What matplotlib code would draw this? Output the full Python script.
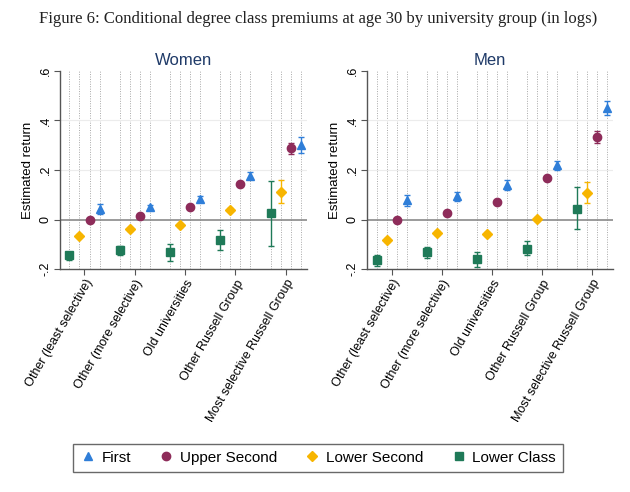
import matplotlib.pyplot as plt
import numpy as np

plt.rcParams['font.family'] = ['Liberation Sans', 'DejaVu Sans']

groups = ['Other (least selective)', 'Other (more selective)', 'Old universities',
          'Other Russell Group', 'Most selective Russell Group']
series = ['Lower Class', 'Lower Second', 'Upper Second', 'First']
legend_order = ['First', 'Upper Second', 'Lower Second', 'Lower Class']

# estimates (women)
women = {
    'Lower Class':  [-0.145, -0.123, -0.132, -0.082, 0.027],
    'Lower Second': [-0.066, -0.039, -0.023, 0.040, 0.113],
    'Upper Second': [0.000, 0.015, 0.050, 0.145, 0.287],
    'First':        [0.044, 0.050, 0.083, 0.175, 0.302],
}
women_lo = {
    'Lower Class':  [-0.164, -0.141, -0.168, -0.121, -0.105],
    'Lower Second': [-0.072, -0.045, -0.030, 0.033, 0.067],
    'Upper Second': [0.000, 0.010, 0.045, 0.138, 0.266],
    'First':        [0.024, 0.040, 0.070, 0.163, 0.268],
}
women_hi = {
    'Lower Class':  [-0.129, -0.105, -0.098, -0.044, 0.157],
    'Lower Second': [-0.060, -0.033, -0.016, 0.047, 0.161],
    'Upper Second': [0.000, 0.020, 0.055, 0.152, 0.309],
    'First':        [0.063, 0.060, 0.097, 0.190, 0.333],
}

# estimates (men)
men = {
    'Lower Class':  [-0.165, -0.132, -0.158, -0.117, 0.044],
    'Lower Second': [-0.082, -0.054, -0.059, 0.003, 0.109],
    'Upper Second': [0.000, 0.027, 0.071, 0.169, 0.334],
    'First':        [0.077, 0.094, 0.141, 0.219, 0.452],
}
men_lo = {
    'Lower Class':  [-0.188, -0.154, -0.192, -0.141, -0.040],
    'Lower Second': [-0.089, -0.061, -0.066, -0.004, 0.067],
    'Upper Second': [0.000, 0.021, 0.065, 0.162, 0.309],
    'First':        [0.054, 0.075, 0.118, 0.199, 0.421],
}
men_hi = {
    'Lower Class':  [-0.145, -0.110, -0.130, -0.087, 0.130],
    'Lower Second': [-0.075, -0.047, -0.052, 0.010, 0.150],
    'Upper Second': [0.000, 0.033, 0.077, 0.176, 0.358],
    'First':        [0.098, 0.110, 0.161, 0.236, 0.479],
}

colors = {'First': '#2f7ed8', 'Upper Second': '#8e2c5a',
          'Lower Second': '#f7b500', 'Lower Class': '#1f7a58'}
markers = {'First': '^', 'Upper Second': 'o', 'Lower Second': 'D', 'Lower Class': 's'}
msizes = {'First': 6, 'Upper Second': 6, 'Lower Second': 5, 'Lower Class': 6}
offsets = {'Lower Class': -0.3, 'Lower Second': -0.1, 'Upper Second': 0.1, 'First': 0.3}

fig = plt.figure(figsize=(6.3, 4.92), dpi=100)
fig.text(0.505, 0.962, 'Figure 6: Conditional degree class premiums at age 30 by university group (in logs)',
         ha='center', va='center', fontsize=12, family=['Liberation Serif', 'DejaVu Serif'], color='#222222')

ax_w = fig.add_axes([0.095, 0.453, 0.392, 0.403])
ax_m = fig.add_axes([0.583, 0.453, 0.390, 0.403])

x = np.arange(len(groups))
handles = {}
for ax, title, est, lo, hi in [(ax_w, 'Women', women, women_lo, women_hi),
                               (ax_m, 'Men', men, men_lo, men_hi)]:
    # dotted vertical guides
    for s in series:
        for xi in x + offsets[s]:
            ax.axvline(xi, color='#a8a8a8', lw=0.7, ls=(0, (1, 1.5)), zorder=0)
    for yv in [0.2, 0.4]:
        ax.axhline(yv, color='#ececec', lw=0.8, zorder=0)
    ax.axhline(0, color='#8a8a8a', lw=1.2, zorder=1)
    for s in series:
        xs = x + offsets[s]
        e = np.array(est[s])
        yerr = np.vstack([e - np.array(lo[s]), np.array(hi[s]) - e])
        ax.errorbar(xs, e, yerr=yerr, fmt='none', ecolor=colors[s], elinewidth=1.0,
                    capsize=2, capthick=1.0, zorder=2)
        h, = ax.plot(xs, e, ls='none', marker=markers[s], ms=msizes[s], color=colors[s],
                     mec=colors[s], zorder=3, label=s)
        handles[s] = h
    ax.set_xlim(-0.49, 4.42)
    ax.set_ylim(-0.2, 0.6)
    ax.set_yticks([-0.2, 0, 0.2, 0.4, 0.6])
    ax.set_yticklabels(['-.2', '0', '.2', '.4', '.6'], rotation=90, va='center', fontsize=9)
    ax.set_xticks(x)
    ax.set_xticklabels(groups, rotation=60, ha='right', rotation_mode='anchor', fontsize=9)
    ax.set_ylabel('Estimated return', fontsize=9.5)
    ax.set_title(title, fontsize=12, color='#1f3a68', pad=4)
    for sp in ['top', 'right']:
        ax.spines[sp].set_visible(False)
    for sp in ['left', 'bottom']:
        ax.spines[sp].set_color('#555555')
        ax.spines[sp].set_linewidth(1.0)
    ax.tick_params(axis='both', color='#555555', length=4, width=0.8, pad=2)

leg = fig.legend([handles[s] for s in legend_order], legend_order, loc='center',
                 bbox_to_anchor=(0.505, 0.0695), ncol=4, fontsize=11, frameon=True,
                 fancybox=False, edgecolor='#444444', handletextpad=0.4, columnspacing=1.8,
                 borderpad=0.45, handlelength=1.0)
leg.get_frame().set_linewidth(1.0)

fig.savefig('out.png', dpi=100)
